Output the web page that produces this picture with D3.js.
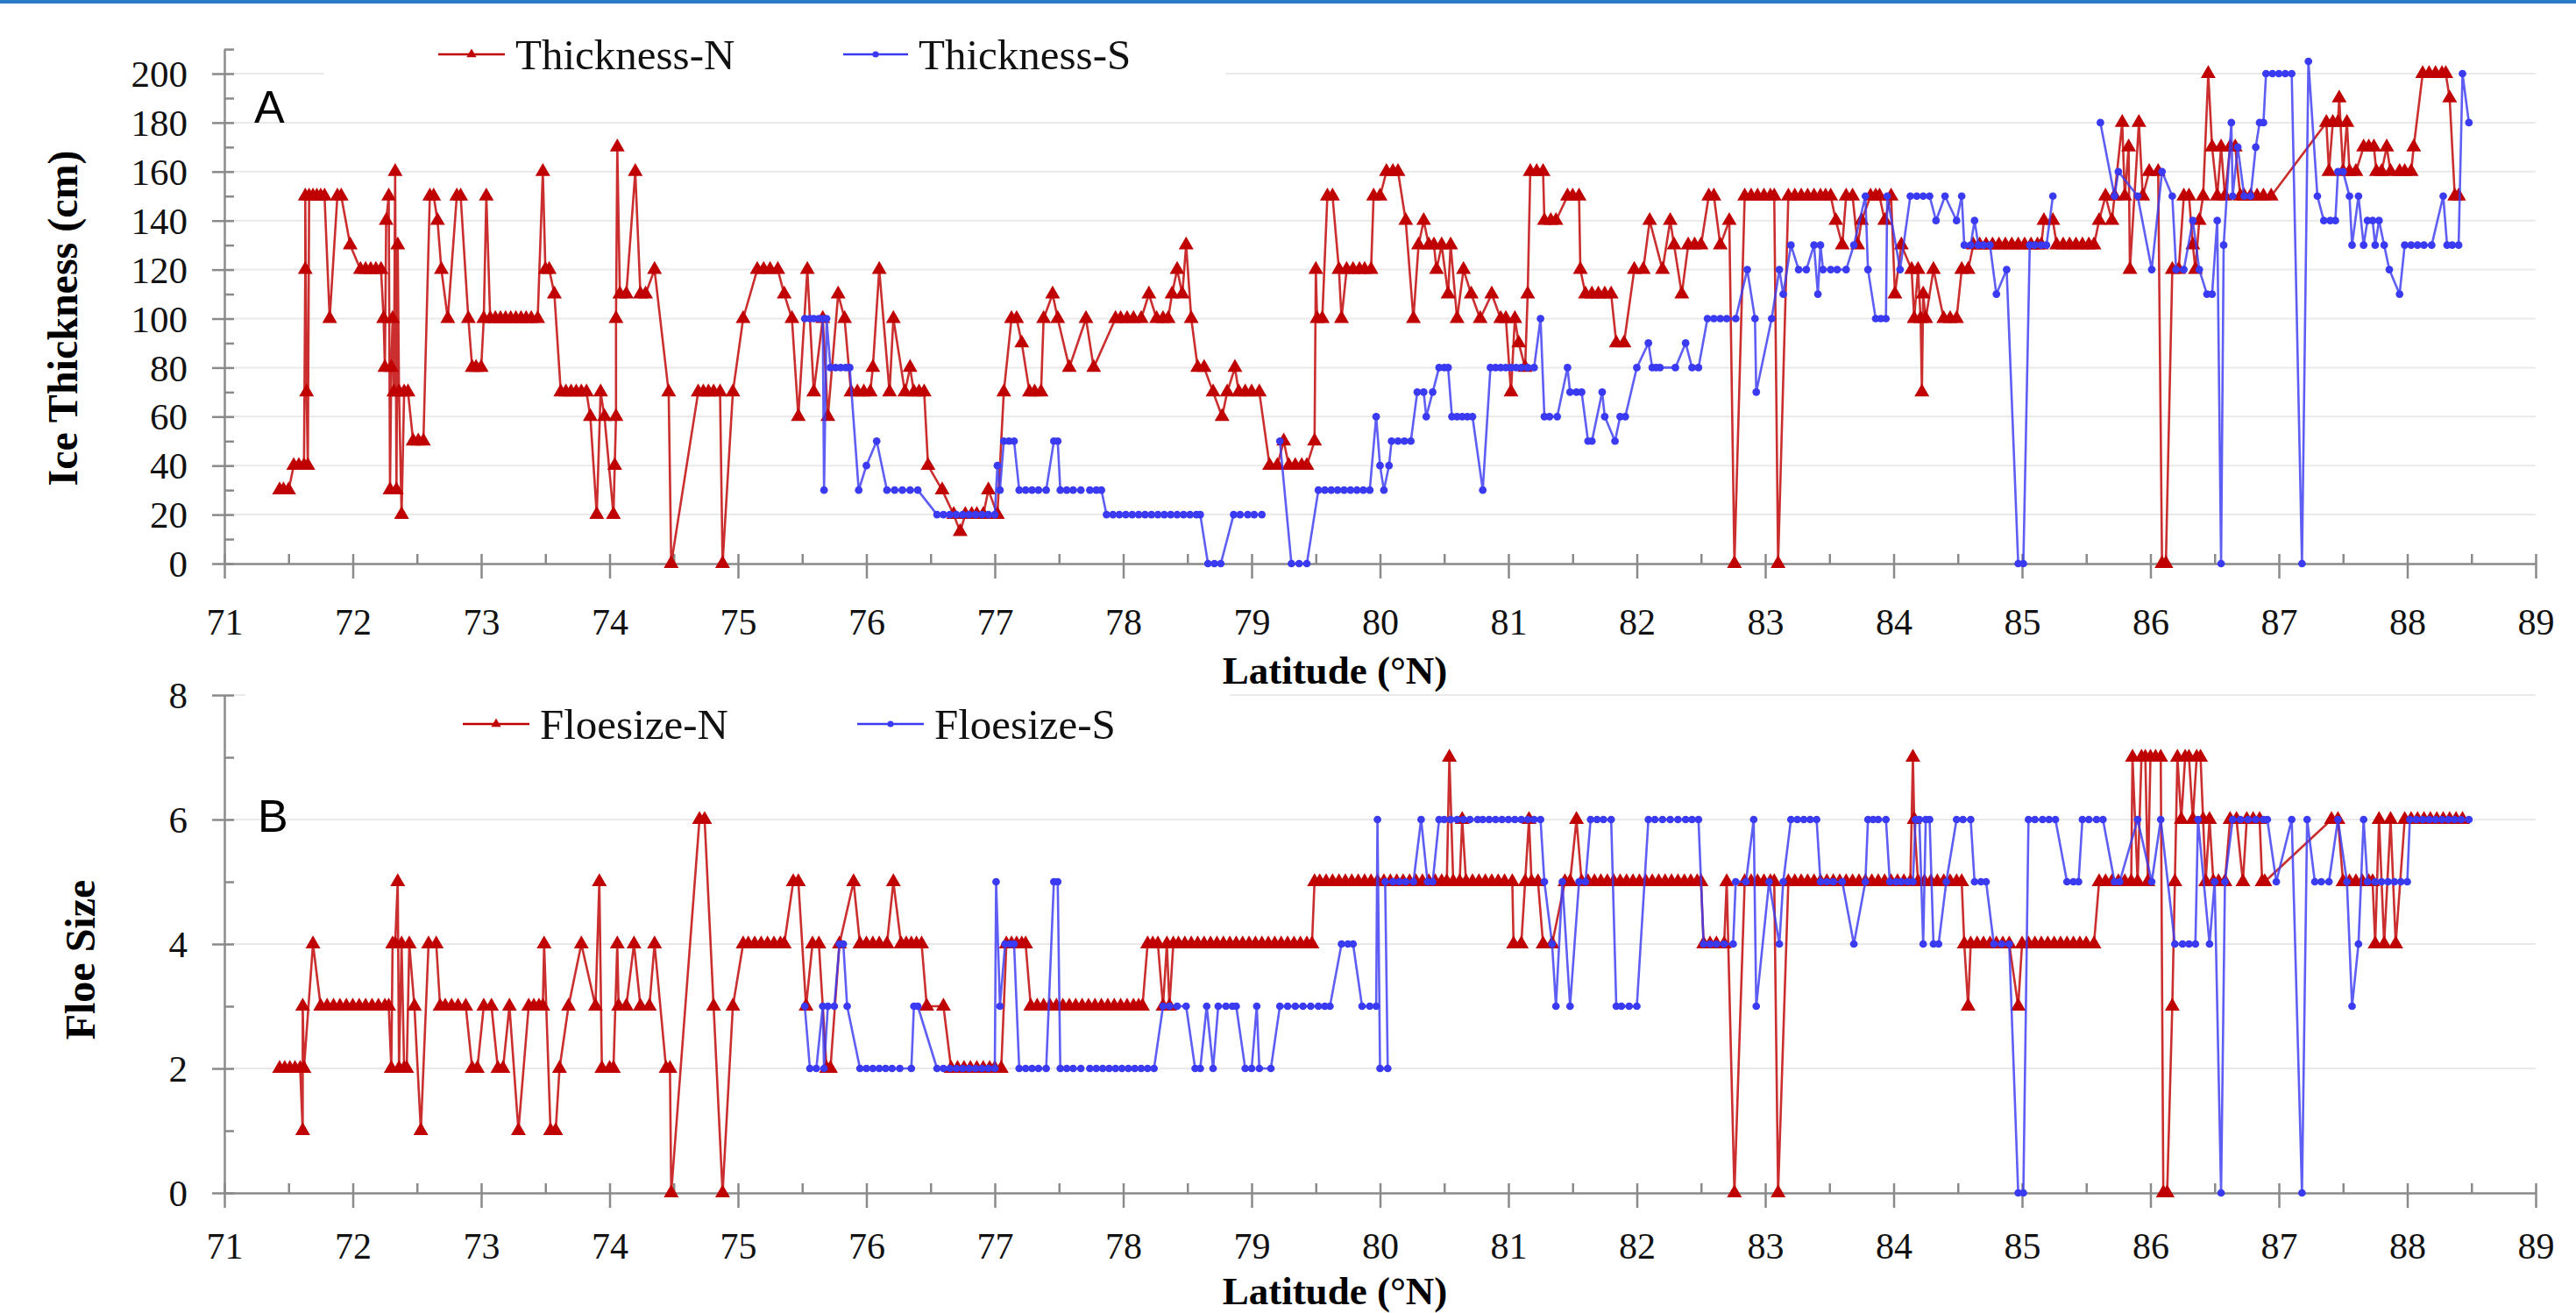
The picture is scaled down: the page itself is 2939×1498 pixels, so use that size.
<!DOCTYPE html>
<html><head><meta charset="utf-8">
<script src="https://cdn.jsdelivr.net/npm/d3@7"></script>
<style>body{margin:0;background:#fff} svg{display:block}</style>
</head><body>
<svg id="c" width="2939" height="1498"></svg>
<script>
// ---------------- DATA ----------------
const latTicks = [71,72,73,74,75,76,77,78,79,80,81,82,83,84,85,86,87,88,89];
const thickTicks = [0,20,40,60,80,100,120,140,160,180,200];
const floeTicks = [0,2,4,6,8];
const seriesNamesA = ["Thickness-N","Thickness-S"];
const seriesNamesB = ["Floesize-N","Floesize-S"];

const thicknessN = [[71.43,30],[71.46,30],[71.5,30],[71.54,40],[71.58,40],[71.62,40],[71.63,120],[71.63,150],[71.64,70],[71.65,40],[71.66,150],[71.69,150],[71.72,150],[71.75,150],[71.78,150],[71.82,100],[71.88,150],[71.91,150],[71.98,130],[72.06,120],[72.1,120],[72.14,120],[72.18,120],[72.22,120],[72.24,100],[72.25,80],[72.26,140],[72.28,150],[72.29,30],[72.3,80],[72.31,100],[72.32,70],[72.33,160],[72.34,30],[72.35,130],[72.36,70],[72.38,20],[72.4,70],[72.43,70],[72.47,50],[72.51,50],[72.55,50],[72.6,150],[72.63,150],[72.66,140],[72.69,120],[72.74,100],[72.81,150],[72.84,150],[72.9,100],[72.93,80],[72.96,80],[73.0,80],[73.02,100],[73.04,150],[73.07,100],[73.11,100],[73.15,100],[73.19,100],[73.23,100],[73.27,100],[73.31,100],[73.35,100],[73.39,100],[73.44,100],[73.48,160],[73.5,120],[73.53,120],[73.57,110],[73.62,70],[73.66,70],[73.7,70],[73.74,70],[73.78,70],[73.82,70],[73.85,60],[73.9,20],[73.93,70],[73.96,60],[74.03,20],[74.04,40],[74.05,60],[74.05,100],[74.06,170],[74.08,110],[74.13,110],[74.2,160],[74.24,110],[74.28,110],[74.35,120],[74.46,70],[74.48,0],[74.69,70],[74.73,70],[74.77,70],[74.81,70],[74.86,70],[74.88,0],[74.96,70],[75.04,100],[75.15,120],[75.2,120],[75.25,120],[75.31,120],[75.36,110],[75.42,100],[75.47,60],[75.54,120],[75.59,70],[75.66,100],[75.7,60],[75.78,110],[75.83,100],[75.88,70],[75.93,70],[75.98,70],[76.03,70],[76.05,80],[76.1,120],[76.18,70],[76.21,100],[76.3,70],[76.34,80],[76.37,70],[76.41,70],[76.45,70],[76.48,40],[76.59,30],[76.68,20],[76.73,13],[76.77,20],[76.82,20],[76.86,20],[76.91,20],[76.95,30],[77.02,20],[77.07,70],[77.13,100],[77.17,100],[77.21,90],[77.27,70],[77.31,70],[77.36,70],[77.38,100],[77.45,110],[77.49,100],[77.58,80],[77.71,100],[77.77,80],[77.94,100],[77.98,100],[78.03,100],[78.08,100],[78.14,100],[78.2,110],[78.26,100],[78.31,100],[78.35,100],[78.38,110],[78.42,120],[78.46,110],[78.49,130],[78.53,100],[78.58,80],[78.63,80],[78.7,70],[78.77,60],[78.81,70],[78.87,80],[78.9,70],[78.95,70],[79.0,70],[79.06,70],[79.14,40],[79.2,40],[79.25,50],[79.29,40],[79.34,40],[79.39,40],[79.43,40],[79.49,50],[79.5,120],[79.51,100],[79.55,100],[79.59,150],[79.63,150],[79.68,120],[79.7,100],[79.74,120],[79.79,120],[79.84,120],[79.88,120],[79.93,120],[79.95,150],[80.0,150],[80.05,160],[80.1,160],[80.14,160],[80.2,140],[80.26,100],[80.3,130],[80.34,140],[80.38,130],[80.42,130],[80.44,120],[80.48,130],[80.53,110],[80.55,130],[80.6,100],[80.65,120],[80.71,110],[80.78,100],[80.87,110],[80.94,100],[80.98,100],[81.02,70],[81.05,100],[81.08,90],[81.13,80],[81.15,110],[81.17,160],[81.22,160],[81.27,160],[81.28,140],[81.33,140],[81.37,140],[81.46,150],[81.5,150],[81.55,150],[81.56,120],[81.6,110],[81.65,110],[81.7,110],[81.75,110],[81.8,110],[81.84,90],[81.9,90],[81.98,120],[82.05,120],[82.1,140],[82.2,120],[82.26,140],[82.29,130],[82.35,110],[82.4,130],[82.45,130],[82.5,130],[82.56,150],[82.6,150],[82.65,130],[82.72,140],[82.76,0],[82.84,150],[82.89,150],[82.94,150],[82.99,150],[83.04,150],[83.07,150],[83.1,0],[83.18,150],[83.23,150],[83.28,150],[83.33,150],[83.38,150],[83.43,150],[83.47,150],[83.51,150],[83.55,140],[83.6,130],[83.63,150],[83.68,150],[83.72,130],[83.75,140],[83.82,150],[83.86,150],[83.89,150],[83.93,140],[83.98,150],[84.01,110],[84.06,130],[84.14,120],[84.16,100],[84.19,120],[84.21,100],[84.22,70],[84.23,110],[84.25,100],[84.31,120],[84.39,100],[84.44,100],[84.49,100],[84.53,120],[84.58,120],[84.62,130],[84.67,130],[84.72,130],[84.77,130],[84.82,130],[84.87,130],[84.92,130],[84.97,130],[85.02,130],[85.07,130],[85.12,130],[85.15,130],[85.17,140],[85.24,140],[85.27,130],[85.32,130],[85.37,130],[85.42,130],[85.47,130],[85.52,130],[85.56,130],[85.6,140],[85.65,150],[85.7,140],[85.72,150],[85.78,180],[85.8,150],[85.83,170],[85.84,120],[85.91,180],[85.94,150],[85.99,160],[86.06,160],[86.09,0],[86.12,0],[86.17,120],[86.22,120],[86.26,150],[86.3,150],[86.33,130],[86.35,120],[86.38,140],[86.41,150],[86.45,200],[86.48,170],[86.52,150],[86.55,170],[86.58,150],[86.62,170],[86.66,170],[86.7,150],[86.73,150],[86.78,150],[86.83,150],[86.88,150],[86.94,150],[87.37,180],[87.39,160],[87.42,180],[87.46,180],[87.47,190],[87.5,160],[87.53,180],[87.55,160],[87.6,160],[87.66,170],[87.7,170],[87.74,170],[87.76,160],[87.8,160],[87.84,170],[87.87,160],[87.94,160],[87.98,160],[88.03,160],[88.05,170],[88.12,200],[88.17,200],[88.22,200],[88.27,200],[88.3,200],[88.33,190],[88.37,150],[88.4,150]];

const thicknessS = [[75.52,100],[75.56,100],[75.59,100],[75.63,100],[75.66,100],[75.67,30],[75.69,100],[75.72,80],[75.76,80],[75.8,80],[75.84,80],[75.87,80],[75.94,30],[76.0,40],[76.08,50],[76.16,30],[76.22,30],[76.28,30],[76.34,30],[76.4,30],[76.55,20],[76.6,20],[76.65,20],[76.7,20],[76.75,20],[76.8,20],[76.85,20],[76.9,20],[76.95,20],[77.0,20],[77.02,40],[77.04,30],[77.07,50],[77.11,50],[77.15,50],[77.19,30],[77.24,30],[77.29,30],[77.34,30],[77.4,30],[77.46,50],[77.49,50],[77.51,30],[77.56,30],[77.61,30],[77.67,30],null,[77.74,30],[77.79,30],[77.83,30],[77.87,20],[77.92,20],[77.97,20],[78.02,20],[78.07,20],[78.12,20],[78.17,20],[78.22,20],[78.27,20],[78.32,20],[78.37,20],[78.42,20],[78.47,20],[78.52,20],[78.57,20],[78.6,20],[78.66,0],[78.71,0],[78.76,0],[78.86,20],[78.91,20],[78.97,20],[79.02,20],[79.08,20],null,[79.22,50],[79.31,0],[79.37,0],[79.43,0],[79.52,30],[79.57,30],[79.62,30],[79.67,30],[79.72,30],[79.77,30],[79.82,30],[79.87,30],[79.92,30],[79.97,60],[80.0,40],[80.03,30],[80.07,40],[80.09,50],[80.14,50],[80.19,50],[80.24,50],[80.29,70],[80.34,70],[80.36,60],[80.41,70],[80.46,80],[80.5,80],[80.53,80],[80.56,60],[80.6,60],[80.64,60],[80.68,60],[80.72,60],[80.8,30],[80.86,80],[80.9,80],[80.94,80],[80.98,80],[81.02,80],[81.06,80],[81.1,80],[81.15,80],[81.2,80],[81.25,100],[81.28,60],[81.32,60],[81.38,60],[81.46,80],[81.48,70],[81.53,70],[81.57,70],[81.62,50],[81.65,50],[81.73,70],[81.75,60],[81.83,50],[81.87,60],[81.91,60],[82.0,80],[82.09,90],[82.12,80],[82.15,80],[82.18,80],[82.3,80],[82.38,90],[82.43,80],[82.48,80],[82.55,100],[82.6,100],[82.65,100],[82.7,100],[82.77,100],[82.86,120],[82.92,100],[82.93,70],[83.05,100],[83.11,120],[83.14,110],[83.2,130],[83.26,120],[83.32,120],[83.38,130],[83.41,110],[83.43,130],[83.45,120],[83.51,120],[83.56,120],[83.63,120],[83.69,130],[83.78,150],[83.8,120],[83.86,100],[83.9,100],[83.94,100],[83.95,150],[84.05,120],[84.13,150],[84.18,150],[84.23,150],[84.28,150],[84.33,140],[84.4,150],[84.49,140],[84.53,150],[84.55,130],[84.6,130],[84.63,140],[84.66,130],[84.7,130],[84.75,130],[84.8,110],[84.88,120],[84.97,0],[85.01,0],[85.06,130],[85.1,130],[85.15,130],[85.19,130],[85.24,150],null,[85.61,180],[85.72,150],[85.75,160],[85.9,150],[86.01,120],[86.09,160],[86.17,150],[86.2,120],[86.26,120],[86.33,140],[86.38,120],[86.44,110],[86.48,110],[86.52,140],[86.55,0],[86.57,130],[86.63,180],[86.64,150],[86.68,170],[86.73,150],[86.78,150],[86.82,170],[86.85,180],[86.88,180],[86.9,200],[86.95,200],[87.0,200],[87.05,200],[87.1,200],[87.18,0],[87.23,205],[87.3,150],[87.35,140],[87.4,140],[87.44,140],[87.46,160],[87.5,160],[87.55,150],[87.57,130],[87.62,150],[87.66,130],[87.69,140],[87.73,140],[87.75,130],[87.78,140],[87.82,130],[87.86,120],[87.94,110],[87.98,130],[88.03,130],[88.08,130],[88.13,130],[88.19,130],[88.28,150],[88.31,130],[88.35,130],[88.4,130],[88.43,200],[88.48,180]];

const floesizeN = [[71.43,2],[71.47,2],[71.51,2],[71.55,2],[71.59,2],[71.61,1],[71.61,3],[71.62,2],[71.69,4],[71.75,3],[71.8,3],[71.85,3],[71.9,3],[71.95,3],[72.0,3],[72.05,3],[72.1,3],[72.15,3],[72.2,3],[72.25,3],[72.28,3],[72.3,2],[72.31,4],[72.33,4],[72.35,5],[72.36,2],[72.38,4],[72.4,2],[72.42,2],[72.44,4],[72.48,3],[72.53,1],[72.59,4],[72.65,4],[72.68,3],[72.72,3],[72.77,3],[72.82,3],[72.88,3],[72.93,2],[72.97,2],[73.02,3],[73.08,3],[73.13,2],[73.17,2],[73.22,3],[73.29,1],[73.37,3],[73.41,3],[73.45,3],[73.48,3],[73.49,4],[73.54,1],[73.58,1],[73.61,2],[73.68,3],[73.78,4],[73.89,3],[73.92,5],[73.94,2],[74.0,2],[74.03,2],[74.06,4],[74.07,3],[74.13,3],[74.19,4],[74.24,3],[74.31,3],[74.35,4],[74.44,2],[74.47,2],[74.48,0],[74.7,6],[74.74,6],[74.81,3],[74.88,0],[74.96,3],[75.04,4],[75.08,4],[75.13,4],[75.18,4],[75.23,4],[75.28,4],[75.33,4],[75.36,4],[75.43,5],[75.47,5],[75.53,3],[75.58,4],[75.63,4],[75.69,2],[75.72,2],[75.79,4],[75.9,5],[75.95,4],[76.0,4],[76.05,4],[76.1,4],[76.16,4],[76.21,5],[76.27,4],[76.31,4],[76.35,4],[76.39,4],[76.43,4],[76.47,3],[76.6,3],[76.66,2],[76.71,2],[76.76,2],[76.81,2],[76.86,2],[76.91,2],[76.96,2],[77.0,2],[77.05,2],[77.09,4],[77.13,4],[77.17,4],[77.21,4],[77.24,4],[77.28,3],[77.33,3],[77.38,3],[77.43,3],[77.48,3],[77.53,3],[77.58,3],[77.63,3],[77.68,3],[77.73,3],[77.78,3],[77.83,3],[77.88,3],[77.93,3],[77.98,3],[78.03,3],[78.08,3],[78.12,3],[78.15,3],[78.19,4],[78.23,4],[78.27,4],[78.31,3],[78.34,4],[78.36,3],[78.39,4],[78.43,4],[78.48,4],[78.53,4],[78.58,4],[78.63,4],[78.68,4],[78.73,4],[78.78,4],[78.83,4],[78.88,4],[78.93,4],[78.98,4],[79.03,4],[79.08,4],[79.13,4],[79.18,4],[79.23,4],[79.28,4],[79.33,4],[79.38,4],[79.43,4],[79.47,4],[79.49,5],[79.53,5],[79.58,5],[79.63,5],[79.68,5],[79.73,5],[79.78,5],[79.83,5],[79.88,5],[79.93,5],[79.98,5],[80.03,5],[80.08,5],[80.13,5],[80.18,5],[80.23,5],[80.28,5],[80.33,5],[80.38,5],[80.43,5],[80.48,5],[80.52,5],[80.54,7],[80.57,5],[80.62,5],[80.64,6],[80.67,5],[80.72,5],[80.77,5],[80.82,5],[80.87,5],[80.92,5],[80.97,5],[81.03,5],[81.04,4],[81.1,4],[81.13,5],[81.16,6],[81.18,5],[81.23,5],[81.27,4],[81.34,4],[81.44,5],[81.48,5],[81.53,6],[81.57,5],[81.62,5],[81.67,5],[81.72,5],[81.77,5],[81.82,5],[81.87,5],[81.92,5],[81.97,5],[82.02,5],[82.07,5],[82.12,5],[82.17,5],[82.22,5],[82.27,5],[82.32,5],[82.37,5],[82.42,5],[82.47,5],[82.5,5],[82.52,4],[82.57,4],[82.62,4],[82.68,4],[82.7,5],[82.76,0],[82.84,5],[82.89,5],[82.94,5],[82.99,5],[83.04,5],[83.07,5],[83.1,0],[83.18,5],[83.23,5],[83.28,5],[83.33,5],[83.38,5],[83.43,5],[83.48,5],[83.53,5],[83.58,5],[83.63,5],[83.68,5],[83.73,5],[83.78,5],[83.83,5],[83.88,5],[83.93,5],[83.98,5],[84.03,5],[84.08,5],[84.13,5],[84.15,7],[84.16,6],[84.19,5],[84.24,5],[84.29,5],[84.34,5],[84.39,5],[84.44,5],[84.49,5],[84.53,5],[84.55,4],[84.58,3],[84.6,4],[84.65,4],[84.7,4],[84.75,4],[84.8,4],[84.85,4],[84.9,4],[84.97,3],[85.0,4],[85.05,4],[85.1,4],[85.15,4],[85.2,4],[85.25,4],[85.3,4],[85.35,4],[85.4,4],[85.45,4],[85.5,4],[85.56,4],[85.6,5],[85.65,5],[85.7,5],[85.75,5],[85.8,5],[85.85,5],[85.86,7],[85.9,5],[85.93,7],[85.96,7],[85.98,5],[86.0,7],[86.04,7],[86.08,7],[86.1,0],[86.13,0],[86.17,3],[86.19,5],[86.21,7],[86.24,6],[86.27,7],[86.3,7],[86.33,6],[86.36,7],[86.39,7],[86.41,6],[86.43,5],[86.46,6],[86.49,5],[86.53,5],[86.58,5],[86.62,6],[86.67,6],[86.72,5],[86.75,6],[86.8,6],[86.85,6],[86.87,5],[86.89,5],[87.41,6],[87.46,6],[87.5,5],[87.55,5],[87.6,5],[87.65,5],[87.7,5],[87.73,5],[87.75,4],[87.78,6],[87.82,4],[87.87,6],[87.91,4],[87.98,6],[88.03,6],[88.08,6],[88.13,6],[88.18,6],[88.23,6],[88.28,6],[88.33,6],[88.38,6],[88.43,6]];

const floesizeS = [[75.52,3],[75.56,2],[75.61,2],[75.66,3],[75.67,2],[75.7,3],[75.75,3],[75.79,4],[75.82,4],[75.85,3],[75.95,2],[76.0,2],[76.05,2],[76.1,2],[76.15,2],[76.2,2],[76.26,2],[76.35,2],[76.37,3],[76.4,3],[76.55,2],[76.6,2],[76.65,2],[76.7,2],[76.75,2],[76.8,2],[76.85,2],[76.9,2],[76.95,2],[77.0,2],[77.01,5],[77.04,3],[77.08,4],[77.12,4],[77.15,4],[77.19,2],[77.24,2],[77.29,2],[77.34,2],[77.4,2],[77.46,5],[77.49,5],[77.51,2],[77.56,2],[77.61,2],[77.67,2],null,[77.74,2],[77.79,2],[77.84,2],[77.89,2],[77.94,2],[77.99,2],[78.04,2],[78.09,2],[78.14,2],[78.19,2],[78.24,2],[78.31,3],[78.36,3],[78.42,3],[78.49,3],[78.56,2],[78.6,2],[78.65,3],[78.7,2],[78.74,3],[78.8,3],[78.85,3],[78.88,3],[78.95,2],[79.0,2],[79.04,3],[79.06,2],[79.15,2],[79.22,3],[79.28,3],[79.34,3],[79.4,3],[79.46,3],[79.52,3],[79.57,3],[79.61,3],[79.7,4],[79.75,4],[79.79,4],[79.86,3],[79.92,3],[79.97,3],[79.98,6],[80.0,2],[80.06,2],[80.04,5],[80.1,5],[80.15,5],[80.2,5],[80.26,5],[80.32,6],[80.37,5],[80.41,5],[80.46,6],[80.5,6],[80.55,6],[80.6,6],[80.65,6],[80.7,6],[80.76,6],[80.8,6],[80.85,6],[80.9,6],[80.95,6],[81.0,6],[81.05,6],[81.1,6],[81.15,6],[81.2,6],[81.25,6],[81.28,5],[81.34,4],[81.37,3],[81.42,5],[81.48,3],[81.55,5],[81.6,5],[81.64,6],[81.69,6],[81.74,6],[81.8,6],[81.84,3],[81.88,3],[81.94,3],[82.0,3],[82.09,6],[82.14,6],[82.2,6],[82.26,6],[82.32,6],[82.38,6],[82.43,6],[82.48,6],[82.52,4],[82.57,4],[82.62,4],[82.68,4],[82.75,4],[82.77,5],[82.85,5],[82.91,6],[82.93,3],[83.03,5],[83.11,4],[83.14,5],[83.2,6],[83.25,6],[83.3,6],[83.35,6],[83.4,6],[83.43,5],[83.48,5],[83.53,5],[83.6,5],[83.69,4],[83.78,5],[83.8,6],[83.84,6],[83.88,6],[83.94,6],[83.97,5],[84.02,5],[84.06,5],[84.11,5],[84.15,5],[84.17,6],[84.2,6],[84.23,4],[84.25,6],[84.28,6],[84.31,4],[84.35,4],[84.41,5],[84.49,6],[84.54,6],[84.6,6],[84.63,5],[84.68,5],[84.72,5],[84.78,4],[84.84,4],[84.9,4],[84.97,0],[85.01,0],[85.05,6],[85.1,6],[85.16,6],[85.21,6],[85.26,6],[85.35,5],[85.4,5],[85.44,5],[85.47,6],[85.52,6],[85.58,6],[85.63,6],[85.72,5],[85.76,5],[85.9,6],[86.01,5],[86.08,6],[86.19,4],[86.25,4],[86.3,4],[86.35,4],[86.37,6],[86.46,4],[86.5,5],[86.55,0],[86.58,5],[86.64,6],[86.7,6],[86.76,6],[86.82,6],[86.88,6],[86.91,6],[86.98,5],[87.1,6],[87.18,0],[87.22,6],[87.28,5],[87.33,5],[87.39,5],[87.46,6],[87.53,5],[87.57,3],[87.62,4],[87.66,6],[87.69,5],[87.75,5],[87.8,5],[87.85,5],[87.9,5],[87.95,5],[88.0,5],[88.02,6],[88.07,6],[88.12,6],[88.17,6],[88.22,6],[88.27,6],[88.32,6],[88.37,6],[88.42,6],[88.48,6]];

// ---------------- CHART ----------------
const W = 2939, H = 1498;
const RED = "#c00000", BLUE = "#3a3af2";
const SERIF = "'Liberation Serif','Times New Roman',serif";
const SANS = "'Liberation Sans',Arial,sans-serif";
const svg = d3.select("#c");
svg.append("rect").attr("width", W).attr("height", H).attr("fill", "#fff");
svg.append("rect").attr("x", 0).attr("y", 0).attr("width", W).attr("height", 4).attr("fill", "#2a7ac8");

const x = d3.scaleLinear().domain([71, 89]).range([256, 2893]);
const xMinor = latTicks.slice(0, -1).map(v => v + 0.5);

function panel(cfg) {
  const y = d3.scaleLinear().domain(cfg.domain).range(cfg.range);
  const g = svg.append("g");
  g.selectAll("line.grid").data(cfg.ticks.filter(v => v > 0)).join("line")
    .attr("x1", x(71)).attr("x2", x(89))
    .attr("y1", d => y(d)).attr("y2", d => y(d))
    .attr("stroke", "#e9e9e9").attr("stroke-width", 2);
  g.append("rect").attr("x", cfg.legBox[0]).attr("y", cfg.legBox[1])
    .attr("width", cfg.legBox[2]).attr("height", cfg.legBox[3]).attr("fill", "#fff");

  const yAx = g.append("g").attr("transform", `translate(${x(71)},0)`)
    .call(d3.axisLeft(y).tickValues(cfg.ticks).tickSize(14).tickSizeOuter(0).tickFormat(d3.format("d")));
  const yIn = g.append("g").attr("transform", `translate(${x(71)},0)`)
    .call(d3.axisRight(y).tickValues(cfg.allTicks).tickSize(11).tickSizeOuter(0).tickFormat(""));
  yIn.select(".domain").remove();
  const xAx = g.append("g").attr("transform", `translate(0,${y(0)})`)
    .call(d3.axisBottom(x).tickValues(latTicks).tickSize(17).tickSizeOuter(0).tickFormat(d3.format("d")));
  const xIn = g.append("g").attr("transform", `translate(0,${y(0)})`)
    .call(d3.axisTop(x).tickValues(latTicks.concat(xMinor)).tickSize(11).tickSizeOuter(0).tickFormat(""));
  xIn.select(".domain").remove();

  [yAx, yIn, xAx, xIn].forEach(a => {
    a.selectAll("path.domain").attr("stroke", "#8a8a8a").attr("stroke-width", 2.5);
    a.selectAll(".tick line").attr("stroke", "#8a8a8a").attr("stroke-width", 2.5);
  });
  yAx.selectAll(".tick text").attr("x", -42).attr("dy", "0.34em")
    .attr("font-family", SERIF).attr("font-size", 43).attr("fill", "#111");
  xAx.selectAll(".tick text").attr("y", cfg.xLabY).attr("dy", 0)
    .attr("font-family", SERIF).attr("font-size", 42).attr("fill", "#111");

  cfg.series.forEach(s => {
    const line = d3.line().defined(d => d !== null).x(d => x(d[0])).y(d => y(d[1]));
    g.append("path").datum(s.data).attr("d", line)
      .attr("fill", "none").attr("stroke", s.color).attr("stroke-width", 2.6)
      .attr("stroke-opacity", 0.82).attr("stroke-linejoin", "round");
    const sym = d3.symbol().type(s.shape).size(s.size);
    g.selectAll(null).data(s.data.filter(d => d !== null)).join("path")
      .attr("d", sym).attr("transform", d => `translate(${x(d[0])},${y(d[1])})`)
      .attr("fill", s.color);
  });

  cfg.series.forEach((s, i) => {
    const L = cfg.legend[i];
    g.append("line").attr("x1", L.x1).attr("x2", L.x2).attr("y1", L.y).attr("y2", L.y)
      .attr("stroke", s.color).attr("stroke-width", 2.6);
    g.append("path").attr("d", d3.symbol().type(s.shape).size(s.legSize)())
      .attr("transform", `translate(${(L.x1 + L.x2) / 2},${L.y})`).attr("fill", s.color);
    g.append("text").attr("x", L.x2 + 12).attr("y", L.y + 17).text(s.name)
      .attr("font-family", SERIF).attr("font-size", 49).attr("fill", "#111");
  });

  g.append("text").attr("x", cfg.letterPos[0]).attr("y", cfg.letterPos[1]).text(cfg.letter)
    .attr("font-family", SANS).attr("font-size", 52).attr("fill", "#000");
  g.append("text").attr("x", 1523).attr("y", cfg.xTitleY).attr("text-anchor", "middle")
    .text("Latitude (°N)").attr("font-family", SERIF).attr("font-weight", "bold")
    .attr("font-size", 45).attr("fill", "#000");
  g.append("text").attr("transform", `translate(${cfg.yTitle[0]},${cfg.yTitle[1]}) rotate(-90)`)
    .attr("text-anchor", "middle").text(cfg.yTitleText)
    .attr("font-family", SERIF).attr("font-weight", "bold").attr("font-size", 48).attr("fill", "#000");
}

panel({
  domain: [0, 210], range: [643, 643 - 210 * 2.795],
  ticks: thickTicks,
  allTicks: [0,10,20,30,40,50,60,70,80,90,100,110,120,130,140,150,160,170,180,190,200,210],
  series: [
    {name: seriesNamesA[0], data: thicknessN, color: RED, shape: d3.symbolTriangle, size: 125, legSize: 55},
    {name: seriesNamesA[1], data: thicknessS, color: BLUE, shape: d3.symbolCircle, size: 60, legSize: 40}
  ],
  legend: [{x1: 500, x2: 576, y: 62}, {x1: 962, x2: 1036, y: 62}],
  legBox: [370, 30, 1028, 70],
  letter: "A", letterPos: [290, 140],
  xLabY: 81, xTitleY: 780,
  yTitle: [88, 363], yTitleText: "Ice Thickness (cm)"
});

panel({
  domain: [0, 8], range: [1361, 793],
  ticks: floeTicks,
  allTicks: [0,1,2,3,4,5,6,7,8],
  series: [
    {name: seriesNamesB[0], data: floesizeN, color: RED, shape: d3.symbolTriangle, size: 125, legSize: 55},
    {name: seriesNamesB[1], data: floesizeS, color: BLUE, shape: d3.symbolCircle, size: 60, legSize: 40}
  ],
  legend: [{x1: 528, x2: 604, y: 826}, {x1: 978, x2: 1054, y: 826}],
  legBox: [280, 780, 1123, 70],
  letter: "B", letterPos: [294, 949],
  xLabY: 75, xTitleY: 1488,
  yTitle: [108, 1095], yTitleText: "Floe Size"
});
</script>
</body></html>
